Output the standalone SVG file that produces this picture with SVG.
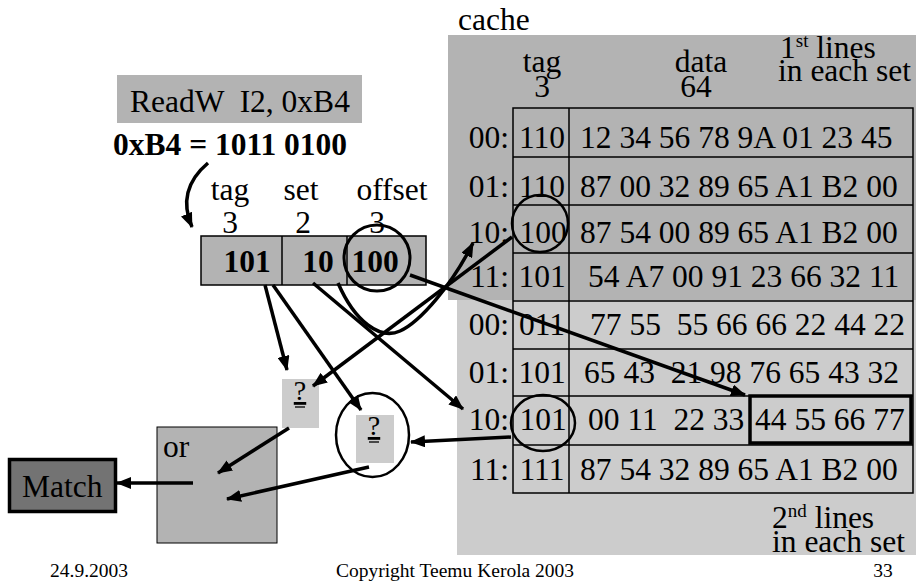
<svg xmlns="http://www.w3.org/2000/svg" width="916" height="583" viewBox="0 0 916 583">
<defs>
<marker id="ah" markerUnits="userSpaceOnUse" markerWidth="15" markerHeight="12" refX="14" refY="6" orient="auto">
<path d="M0,0 L15,6 L0,12 z" fill="#000"/>
</marker>
<style>
text{font-family:"Liberation Serif","Times New Roman",serif;fill:#000;}
.t{font-size:31.5px;}
.b{font-size:31.5px;font-weight:bold;}
.m{text-anchor:middle;}
.e{text-anchor:end;}
.pre{white-space:pre;}
.f{font-size:19.5px;}
.q{font-size:28px;text-anchor:middle;text-decoration:underline;}
.ql{stroke:#000;stroke-width:1.3;}
.tbl{fill:none;stroke:#000;stroke-width:1.5;}
.c{fill:none;stroke:#000;stroke-width:3;}
.c2{fill:none;stroke:#000;stroke-width:2.5;}
.a{fill:none;stroke:#000;stroke-width:3.5;marker-end:url(#ah);}
</style>
</defs>
<rect width="916" height="583" fill="#fff"/>

<g id="instruction">
<rect x="117" y="75" width="245" height="48" fill="#b3b3b3"/>
<text class="t pre" x="130" y="112">ReadW  I2, 0xB4</text>
<text class="b" x="113" y="155">0xB4 = 1011 0100</text>
</g>

<g id="address">
<text class="t m" x="230" y="200">tag<tspan x="230" dy="33">3</tspan></text>
<text class="t m" x="301" y="200">set<tspan x="303" dy="33">2</tspan></text>
<text class="t m" x="392" y="200">offset<tspan x="377" dy="33">3</tspan></text>
<rect x="201" y="236" width="225" height="49" fill="#b3b3b3" stroke="#000" stroke-width="1.5"/>
<line x1="282" y1="236" x2="282" y2="285" stroke="#000" stroke-width="1.5"/>
<line x1="347" y1="236" x2="347" y2="285" stroke="#000" stroke-width="1.5"/>
<text class="b m" x="247" y="272">101</text>
<text class="b m" x="318" y="272">10</text>
<text class="b m" x="375" y="272">100</text>
<ellipse cx="377" cy="258" rx="33" ry="33" class="c"/>
</g>

<g id="cache">
<text class="t" x="458" y="30">cache</text>
<rect x="448" y="35" width="468" height="265" fill="#b3b3b3"/>
<rect x="457" y="300" width="459" height="255" fill="#cccccc"/>
<text class="t m" x="542" y="72">tag<tspan x="542" dy="25">3</tspan></text>
<text class="t m" x="701" y="72">data<tspan x="696" dy="25">64</tspan></text>
<text class="t" x="780" y="58">1<tspan font-size="19" dy="-11">st</tspan><tspan dy="11"> lines</tspan><tspan x="778" dy="23">in each set</tspan></text>
<rect x="513" y="108" width="400" height="385" class="tbl"/>
<line x1="569" y1="108" x2="569" y2="493" class="tbl"/>
<path d="M513,157H913M513,205H913M513,253H913M513,301H913M513,349H913M513,396H913M513,445H913" class="tbl"/>

<text class="t e" x="509" y="148">00:</text>
<text class="t m" x="542" y="148">110</text>
<text class="t" x="580" y="148">12 34 56 78 9A 01 23 45</text>

<text class="t e" x="509" y="197">01:</text>
<text class="t m" x="542" y="197">110</text>
<text class="t" x="580" y="197">87 00 32 89 65 A1 B2 00</text>

<text class="t e" x="509" y="243">10:</text>
<text class="t m" x="543" y="243">100</text>
<text class="t" x="580" y="243">87 54 00 89 65 A1 B2 00</text>
<ellipse cx="540" cy="223.5" rx="28" ry="28.5" class="c2"/>

<text class="t e" x="509" y="287">11:</text>
<text class="t m" x="542" y="287">101</text>
<text class="t" x="588" y="287">54 A7 00 91 23 66 32 11</text>

<text class="t e" x="509" y="335">00:</text>
<text class="t m" x="542" y="335">011</text>
<text class="t pre" x="590" y="335">77 55  55 66 66 22 44 22</text>

<text class="t e" x="509" y="383">01:</text>
<text class="t m" x="542" y="383">101</text>
<text class="t pre" x="584" y="383">65 43  21 98 76 65 43 32</text>

<text class="t e" x="509" y="430">10:</text>
<text class="t m" x="543" y="430">101</text>
<text class="t pre" x="588" y="430">00 11  22 33</text>
<text class="t" x="755" y="430">44 55 66 77</text>
<ellipse cx="543" cy="423" rx="32" ry="28" class="c2"/>
<rect x="750" y="396" width="161" height="47" fill="none" stroke="#000" stroke-width="3.5"/>

<text class="t e" x="509" y="480">11:</text>
<text class="t m" x="542" y="480">111</text>
<text class="t" x="580" y="480">87 54 32 89 65 A1 B2 00</text>

<text class="t" x="772" y="528">2<tspan font-size="19" dy="-11">nd</tspan><tspan dy="11"> lines</tspan><tspan x="772" dy="24">in each set</tspan></text>
</g>

<g id="cmp1">
<rect x="282" y="379" width="37" height="49" fill="#cccccc"/>
<text class="q" x="300" y="400">?</text>
<line class="ql" x1="295" y1="407" x2="305" y2="407"/>
</g>

<g id="cmp2">
<ellipse cx="372.5" cy="435" rx="36.5" ry="42" class="c2" fill="#fff"/>
<rect x="356" y="415" width="38" height="48" fill="#cccccc"/>
<text class="q" x="374" y="435">?</text>
<line class="ql" x1="369" y1="442" x2="379" y2="442"/>
</g>

<g id="or">
<rect x="157" y="427" width="120" height="116" fill="#b3b3b3" stroke="#000" stroke-width="1"/>
<text class="t" x="163" y="457">or</text>
</g>

<g id="match">
<rect x="9.5" y="459.5" width="106" height="52" fill="#737373" stroke="#000" stroke-width="3.5"/>
<text class="t" x="22" y="497">Match</text>
</g>

<g id="connectors">
<path class="a" d="M208,163 Q176,190 192,227"/>
<path class="a" d="M265,285 L287,370"/>
<path class="a" d="M273,285 L361,410"/>
<path class="a" d="M313,283 L463,409"/>
<path class="a" d="M338,283 C355,322 380,340 400,331 C420,322 452,285 473,243"/>
<path class="a" d="M512,237 L313,386"/>
<path class="a" d="M410,275 L745,395"/>
<path class="a" d="M511,437 L411,442"/>
<path class="a" d="M289,428 L218,473"/>
<path class="a" d="M369,467 L227,499"/>
<path class="a" d="M193,483 L117,483"/>
</g>

<g id="footer">
<text class="f" x="50" y="577">24.9.2003</text>
<text class="f m" x="455" y="577">Copyright Teemu Kerola 2003</text>
<text class="f m" x="883" y="577">33</text>
</g>
</svg>
